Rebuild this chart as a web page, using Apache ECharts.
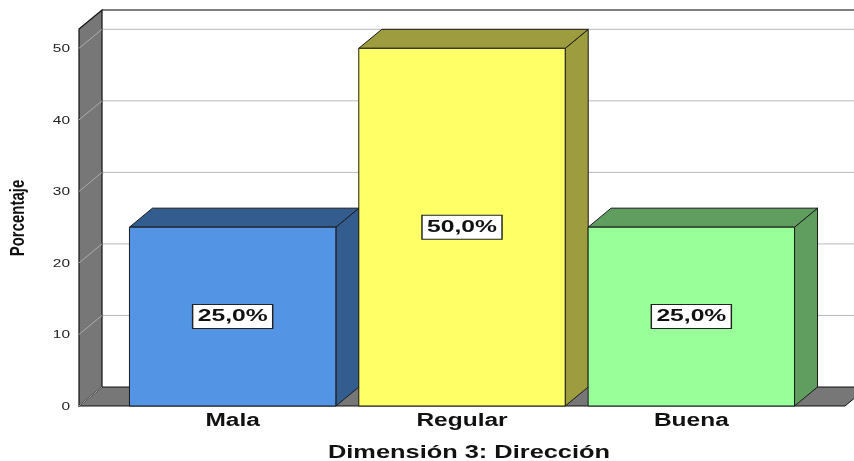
<!DOCTYPE html>
<html>
<head>
<meta charset="utf-8">
<title>Dimensión 3: Dirección</title>
<script src="https://cdn.jsdelivr.net/npm/echarts@6/dist/echarts.min.js"></script>
<style>
  html, body { margin: 0; padding: 0; background: #ffffff; }
  #chart { width: 854px; height: 461px; }
</style>
</head>
<body>
<div id="chart"></div>
<script>
// Data
const categories = ['Mala', 'Regular', 'Buena'];
const percentages = [25.0, 50.0, 25.0];
const yTicks = [0, 10, 20, 30, 40, 50];
const xAxisTitle = 'Dimensión 3: Dirección';
const yAxisTitle = 'Porcentaje';

// Styling
const frontColors = ['#5394e4', '#ffff66', '#99ff99'];
const shadeColors = ['#335c8f', '#9d9d3f', '#5f9e5f'];
const FONT = '"Liberation Sans", Arial, sans-serif';
const DX = 23, DY = 19;        // pseudo-3D depth offset in pixels
const HALF = 0.45;             // half bar width in category units
const X_MIN = -0.67, X_MAX = 2.67, Y_MAX = 52.7;
const STRETCH = 1.4;           // wide lettering

function fmtPct(v) {
  return v.toFixed(1).replace('.', ',') + '%';
}

// Walls, floor, gridlines and value-axis labels
function renderFrame(params, api) {
  const cs = params.coordSys;
  const x0 = cs.x, x1 = cs.x + cs.width;
  const yTop = cs.y, yBot = cs.y + cs.height;
  const W = api.getWidth();
  const children = [];

  yTicks.forEach(function (t) {
    if (t === 0) return;
    const yv = api.coord([X_MIN, t])[1];
    children.push({
      type: 'line',
      shape: { x1: x0 + DX, y1: yv - DY, x2: W, y2: yv - DY },
      style: { stroke: '#b9b9b9', lineWidth: 1 }
    });
  });
  children.push({
    type: 'line',
    shape: { x1: x0 + DX, y1: yTop - DY, x2: W, y2: yTop - DY },
    style: { stroke: '#555555', lineWidth: 1.5 }
  });
  children.push({
    type: 'polygon',
    shape: { points: [[x0, yBot], [x1, yBot], [x1 + DX, yBot - DY], [x0 + DX, yBot - DY]] },
    style: { fill: '#777777', stroke: '#111111', lineWidth: 1 }
  });
  children.push({
    type: 'polygon',
    shape: { points: [[x0, yTop], [x0 + DX, yTop - DY], [x0 + DX, yBot - DY], [x0, yBot]] },
    style: { fill: '#777777', stroke: '#111111', lineWidth: 1.2 }
  });
  yTicks.forEach(function (t) {
    const yv = api.coord([X_MIN, t])[1];
    children.push({
      type: 'line',
      shape: { x1: x0, y1: yv, x2: x0 + DX, y2: yv - DY },
      style: { stroke: '#acacac', lineWidth: 1 }
    });
    children.push({
      type: 'text',
      x: x0 - 9,
      y: yv + 1,
      scaleX: STRETCH,
      style: {
        text: String(t),
        font: '11px ' + FONT,
        fill: '#222222',
        align: 'right',
        verticalAlign: 'middle'
      }
    });
  });
  return { type: 'group', children: children };
}

// One pseudo-3D bar per category
function renderBar(params, api) {
  const i = api.value(0), v = api.value(1);
  const bl = api.coord([i - HALF, 0]);
  const tr = api.coord([i + HALF, v]);
  const xl = bl[0], yb = bl[1], xr = tr[0], yt = tr[1];
  const idx = params.dataIndex;
  const edge = { stroke: '#1a1a1a', lineWidth: 1 };
  return {
    type: 'group',
    children: [
      {
        type: 'polygon',
        shape: { points: [[xr, yt], [xr + DX, yt - DY], [xr + DX, yb - DY], [xr, yb]] },
        style: Object.assign({ fill: shadeColors[idx] }, edge)
      },
      {
        type: 'polygon',
        shape: { points: [[xl, yt], [xr, yt], [xr + DX, yt - DY], [xl + DX, yt - DY]] },
        style: Object.assign({ fill: shadeColors[idx] }, edge)
      },
      {
        type: 'rect',
        shape: { x: xl, y: yt, width: xr - xl, height: yb - yt },
        style: Object.assign({ fill: frontColors[idx] }, edge)
      }
    ]
  };
}

// Value boxes and category names
function renderLabels(params, api) {
  const i = api.value(0), v = api.value(1);
  const mid = api.coord([i, v / 2]);
  const base = api.coord([i, 0]);
  return {
    type: 'group',
    children: [
      {
        type: 'text',
        x: mid[0],
        y: mid[1],
        scaleX: 1.45,
        style: {
          text: fmtPct(v),
          font: 'bold 17px ' + FONT,
          fill: '#111111',
          align: 'center',
          verticalAlign: 'middle',
          lineHeight: 18,
          backgroundColor: '#ffffff',
          borderColor: '#222222',
          borderWidth: 1,
          padding: [3, 3, 2, 3]
        }
      },
      {
        type: 'text',
        x: base[0],
        y: base[1] + 15,
        scaleX: 1.36,
        style: {
          text: categories[params.dataIndex],
          font: 'bold 18px ' + FONT,
          fill: '#111111',
          align: 'center',
          verticalAlign: 'middle'
        }
      }
    ]
  };
}

const chart = echarts.init(document.getElementById('chart'), null, { renderer: 'canvas' });
const barData = categories.map(function (c, i) { return [i, percentages[i]]; });

chart.setOption({
  animation: false,
  backgroundColor: '#ffffff',
  grid: { left: 79, right: 9, top: 29, bottom: 55 },
  xAxis: { type: 'value', min: X_MIN, max: X_MAX, show: false },
  yAxis: { type: 'value', min: 0, max: Y_MAX, show: false },
  graphic: [
    {
      type: 'text',
      x: 469,
      y: 453,
      scaleX: 1.41,
      style: {
        text: xAxisTitle,
        font: 'bold 18px ' + FONT,
        fill: '#111111',
        align: 'center',
        verticalAlign: 'middle'
      }
    },
    {
      type: 'text',
      x: 18,
      y: 218,
      rotation: Math.PI / 2,
      scaleY: 1.35,
      style: {
        text: yAxisTitle,
        font: 'bold 15px ' + FONT,
        fill: '#111111',
        align: 'center',
        verticalAlign: 'middle'
      }
    }
  ],
  series: [
    { type: 'custom', name: 'frame', data: [[0, 0]], clip: false, silent: true, z: 1, renderItem: renderFrame },
    { type: 'custom', name: 'bars', data: barData, clip: false, z: 2, renderItem: renderBar },
    { type: 'custom', name: 'labels', data: barData, clip: false, silent: true, z: 3, renderItem: renderLabels }
  ]
});
</script>
</body>
</html>
